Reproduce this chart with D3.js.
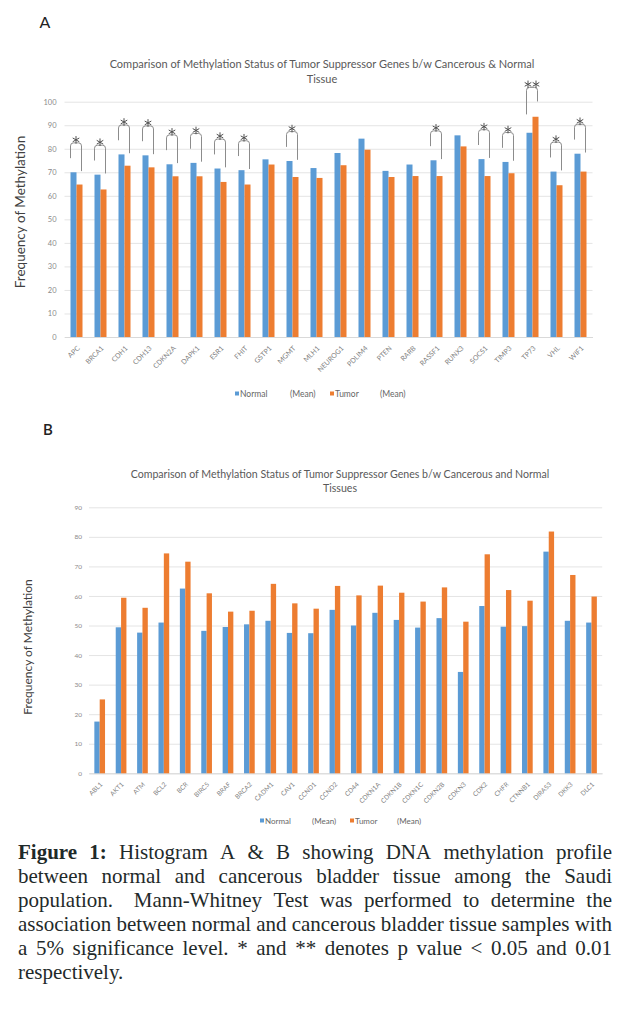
<!DOCTYPE html>
<html>
<head>
<meta charset="utf-8">
<script src="https://cdn.jsdelivr.net/npm/d3@7"></script>
<style>
	body { margin: 0; background: #fff; }
	#chart svg text { font-family: Lato, "Open Sans", sans-serif; }
</style>
</head>
<body>
<div id="chart"></div>
<script>
// Data - panel A
const genesA = ['APC', 'BRCA1', 'CDH1', 'CDH13', 'CDKN2A', 'DAPK1', 'ESR1', 'FHIT', 'GSTP1', 'MGMT', 'MLH1',
	'NEUROG1', 'PDLIM4', 'PTEN', 'RARB', 'RASSF1', 'RUNX3', 'SOCS1', 'TIMP3', 'TP73', 'VHL', 'WIF1']
const normalA = [70, 69, 77.6, 77.2, 73.4, 74, 71.6, 70.9, 75.5, 74.8, 71.8,
	78.2, 84.3, 70.6, 73.3, 75.1, 85.7, 75.6, 74.4, 86.8, 70.3, 77.9]
const tumorA = [64.8, 62.7, 72.8, 72.1, 68.3, 68.3, 65.9, 64.8, 73.3, 68, 67.6,
	73, 79.6, 68, 68.4, 68.4, 81, 68.4, 69.6, 93.6, 64.5, 70.3]
const sigA = ['*', '*', '*', '*', '*', '*', '*', '*', '', '*', '',
	'', '', '', '', '*', '', '*', '*', '**', '*', '*']
const ticksA = [0, 10, 20, 30, 40, 50, 60, 70, 80, 90, 100]

// Data - panel B
const genesB = ['ABL1', 'AKT1', 'ATM', 'BCL2', 'BCR', 'BIRC5', 'BRAF', 'BRCA2', 'CADM1', 'CAV1', 'CCND1', 'CCND2',
	'CD44', 'CDKN1A', 'CDKN1B', 'CDKN1C', 'CDKN2B', 'CDKN3', 'CDX2', 'CHFR', 'CTNNB1', 'DIRAS3', 'DKK3', 'DLC1']
const normalB = [17.5, 49.4, 47.6, 51, 62.5, 48.2, 49.5, 50.4, 51.6, 47.5, 47.4, 55.3,
	50, 54.3, 51.9, 49.3, 52.5, 34.3, 56.6, 49.6, 49.8, 75, 51.6, 51]
const tumorB = [25, 59.4, 56, 74.4, 71.6, 60.9, 54.7, 55, 64.1, 57.5, 55.7, 63.4,
	60.2, 63.5, 61.1, 58.1, 62.9, 51.3, 74.1, 62, 58.4, 81.8, 67.1, 59.8]
const ticksB = [0, 10, 20, 30, 40, 50, 60, 70, 80, 90]

const series = ['Normal', 'Tumor']
const colors = { Normal: '#5b9bd5', Tumor: '#ed7d31' }

const captionLines = [
	[['Figure 1:', true], ['Histogram A & B showing DNA methylation profile', false]],
	[['between normal and cancerous bladder tissue among the Saudi', false]],
	[['population.  Mann-Whitney Test was performed to determine the', false]],
	[['association between normal and cancerous bladder tissue samples with', false]],
	[['a 5% significance level. * and ** denotes p value < 0.05 and 0.01', false]],
	[['respectively.', false]]
]

function drawPanel(svg, p) {
	const rows = p.genes.map((g, i) => ({ gene: g, Normal: p.normal[i], Tumor: p.tumor[i], sig: p.sig ? p.sig[i] : '' }))

	// Scales
	const x = d3.scaleBand().domain(p.genes).range([p.left, p.right])
	const xSub = d3.scaleBand().domain(series).range([0, x.bandwidth()]).paddingOuter(1)
	const y = d3.scaleLinear().domain([0, p.max]).range([p.bottom, p.top])

	// Gridlines & y labels
	svg.append('g')
		.attr('transform', `translate(${p.left},0)`)
		.call(d3.axisLeft(y).tickValues(p.ticks).tickSize(-(p.right - p.left)).tickPadding(p.tickPad))
		.attr('font-family', null)
		.attr('font-size', p.tickFont)
		.call(g => g.select('.domain').remove())
		.call(g => g.selectAll('line').attr('stroke', '#e4e4e4'))
		.call(g => g.selectAll('text').attr('fill', '#8a8a8a'))

	// x axis
	svg.append('g')
		.attr('transform', `translate(0,${p.bottom})`)
		.call(d3.axisBottom(x).tickSize(0).tickSizeOuter(0))
		.attr('font-family', null)
		.attr('font-size', p.xFont)
		.call(g => g.select('.domain').attr('stroke', '#d9d9d9'))
		.call(g => g.selectAll('text')
			.attr('fill', '#7f7f7f')
			.attr('text-anchor', 'end')
			.attr('x', 0).attr('y', 0).attr('dy', '0.35em')
			.attr('transform', `translate(${p.labelDx},${p.labelDy}) rotate(-45)`))

	// Bars
	svg.append('g')
		.selectAll('g')
		.data(rows)
		.join('g')
		.attr('transform', d => `translate(${x(d.gene)},0)`)
		.selectAll('rect')
		.data(d => series.map(s => ({ key: s, value: d[s] })))
		.join('rect')
		.attr('x', d => xSub(d.key))
		.attr('width', xSub.bandwidth())
		.attr('y', d => y(d.value))
		.attr('height', d => p.bottom - y(d.value))
		.attr('fill', d => colors[d.key])

	// Significance brackets
	const sigRows = rows.filter(d => d.sig)
	const br = svg.append('g')
	br.selectAll('path')
		.data(sigRows)
		.join('path')
		.attr('fill', 'none')
		.attr('stroke', '#8c8c8c')
		.attr('stroke-width', 1)
		.attr('d', d => {
			const top = Math.max(d.Normal, d.Tumor)
			const x0 = x(d.gene) + xSub('Normal') + xSub.bandwidth() / 2 - 3
			const x1 = x(d.gene) + xSub('Tumor') + xSub.bandwidth() / 2 + 2
			const yt = y(top + 12.5)
			const yl = d.Normal >= d.Tumor ? y(top + 6) : y(top + 1)
			const yr = d.Normal >= d.Tumor ? y(top + 0.5) : y(top + 6.5)
			const r = 3
			return `M${x0},${yl}L${x0},${yt + r}Q${x0},${yt} ${x0 + r},${yt}L${x1 - r},${yt}Q${x1},${yt} ${x1},${yt + r}L${x1},${yr}`
		})

	const star = d3.symbol(d3.symbolAsterisk, 40)
	br.selectAll('g')
		.data(sigRows)
		.join('g')
		.attr('transform', d => {
			const top = Math.max(d.Normal, d.Tumor)
			const cx = x(d.gene) + x.bandwidth() / 2 - 0.5
			return `translate(${cx},${y(top + 12.5) - 3})`
		})
		.selectAll('path')
		.data(d => d3.range(d.sig.length).map(i => (i - (d.sig.length - 1) / 2) * 8))
		.join('path')
		.attr('transform', d => `translate(${d},0)`)
		.attr('d', star)
		.attr('fill', 'none')
		.attr('stroke', '#505050')
		.attr('stroke-width', 1)

	// Titles
	const title = svg.append('text')
		.attr('text-anchor', 'middle')
		.attr('font-size', p.titleFont)
		.attr('fill', '#595959')
	p.title.forEach((t, i) => {
		title.append('tspan').attr('x', p.titleX).attr('y', p.titleY + i * p.titleGap).text(t)
	})

	svg.append('text')
		.attr('transform', `translate(${p.yTitleX},${p.yTitleY}) rotate(-90)`)
		.attr('text-anchor', 'middle')
		.attr('font-size', p.yTitleFont)
		.attr('fill', '#404040')
		.text('Frequency of Methylation')

	svg.append('text')
		.attr('x', p.letterX).attr('y', p.letterY)
		.attr('text-anchor', 'middle')
		.attr('font-size', p.letterFont)
		.attr('font-weight', p.letterWeight)
		.attr('fill', '#222')
		.text(p.letter)

	// Legend
	const lg = svg.append('g').attr('font-size', p.legendFont).attr('fill', '#666')
	series.forEach((s, i) => {
		const lx = p.legendX[i]
		lg.append('rect').attr('x', lx).attr('y', p.legendY - 2.5).attr('width', 4).attr('height', 4).attr('fill', colors[s])
		lg.append('text').attr('x', lx + 5).attr('y', p.legendY).attr('dy', '0.35em').text(s)
		lg.append('text').attr('x', p.meanX[i]).attr('y', p.legendY).attr('dy', '0.35em').text('(Mean)')
	})
}

function drawCaption(svg) {
	const left = 18
	const right = 612
	const g = svg.append('g')
		.attr('font-size', 21)
		.attr('fill', '#1f2a2a')
	captionLines.forEach((line, li) => {
		// words, each with the weight of the gap that follows it (two spaces = wider gap)
		const words = []
		line.forEach(([txt, bold]) => {
			const parts = txt.split(/( +)/)
			for (let i = 0; i < parts.length; i += 2) {
				const sp = parts[i + 1] ? parts[i + 1].length : 1
				words.push({ w: parts[i], bold, weight: sp > 1 ? 1.8 : 1 })
			}
		})
		words[words.length - 1].weight = 0
		const yy = 858.5 + li * 24.1
		const nodes = words.map(d => g.append('text')
			.attr('y', yy)
			.attr('font-weight', d.bold ? 'bold' : 'normal')
			.style('font-family', '"Liberation Serif", "Times New Roman", serif')
			.text(d.w))
		const widths = nodes.map(n => n.node().getComputedTextLength())
		const total = d3.sum(widths)
		const last = li === captionLines.length - 1
		const unit = last || words.length < 2 ? 5.25 : (right - left - total) / d3.sum(words, d => d.weight)
		let cx = left
		nodes.forEach((n, i) => {
			n.attr('x', cx)
			cx += widths[i] + unit * words[i].weight
		})
	})
}

function draw() {
	let dimensions = { width: 632, height: 1020 }

	const svg = d3.select('#chart')
		.append('svg')
		.attr('width', dimensions.width)
		.attr('height', dimensions.height)

	drawPanel(svg, {
		genes: genesA, normal: normalA, tumor: tumorA, sig: sigA, ticks: ticksA, max: 100,
		left: 64.5, right: 592.5, top: 101.7, bottom: 337,
		tickPad: 8, tickFont: 7.5, xFont: 7, labelDx: 2, labelDy: 10,
		title: ['Comparison of Methylation Status of Tumor Suppressor Genes b/w Cancerous & Normal', 'Tissue'],
		titleX: 322, titleY: 68, titleGap: 15, titleFont: 11,
		yTitleX: 25, yTitleY: 212, yTitleFont: 13.5,
		letter: 'A', letterX: 45, letterY: 28, letterFont: 16, letterWeight: 'normal',
		legendX: [235, 330], meanX: [290, 380], legendY: 394, legendFont: 8.5
	})

	drawPanel(svg, {
		genes: genesB, normal: normalB, tumor: tumorB, sig: null, ticks: ticksB, max: 90,
		left: 89, right: 602.2, top: 507.3, bottom: 773.3,
		tickPad: 7, tickFont: 6.5, xFont: 6.5, labelDx: 1.5, labelDy: 10,
		title: ['Comparison of Methylation Status of Tumor Suppressor Genes b/w Cancerous and Normal', 'Tissues'],
		titleX: 340, titleY: 478, titleGap: 14, titleFont: 10.6,
		yTitleX: 32, yTitleY: 647, yTitleFont: 12,
		letter: 'B', letterX: 48, letterY: 435, letterFont: 15, letterWeight: 600,
		legendX: [260, 350], meanX: [312, 397], legendY: 821, legendFont: 8
	})

	drawCaption(svg)
}

draw()
</script>
</body>
</html>
